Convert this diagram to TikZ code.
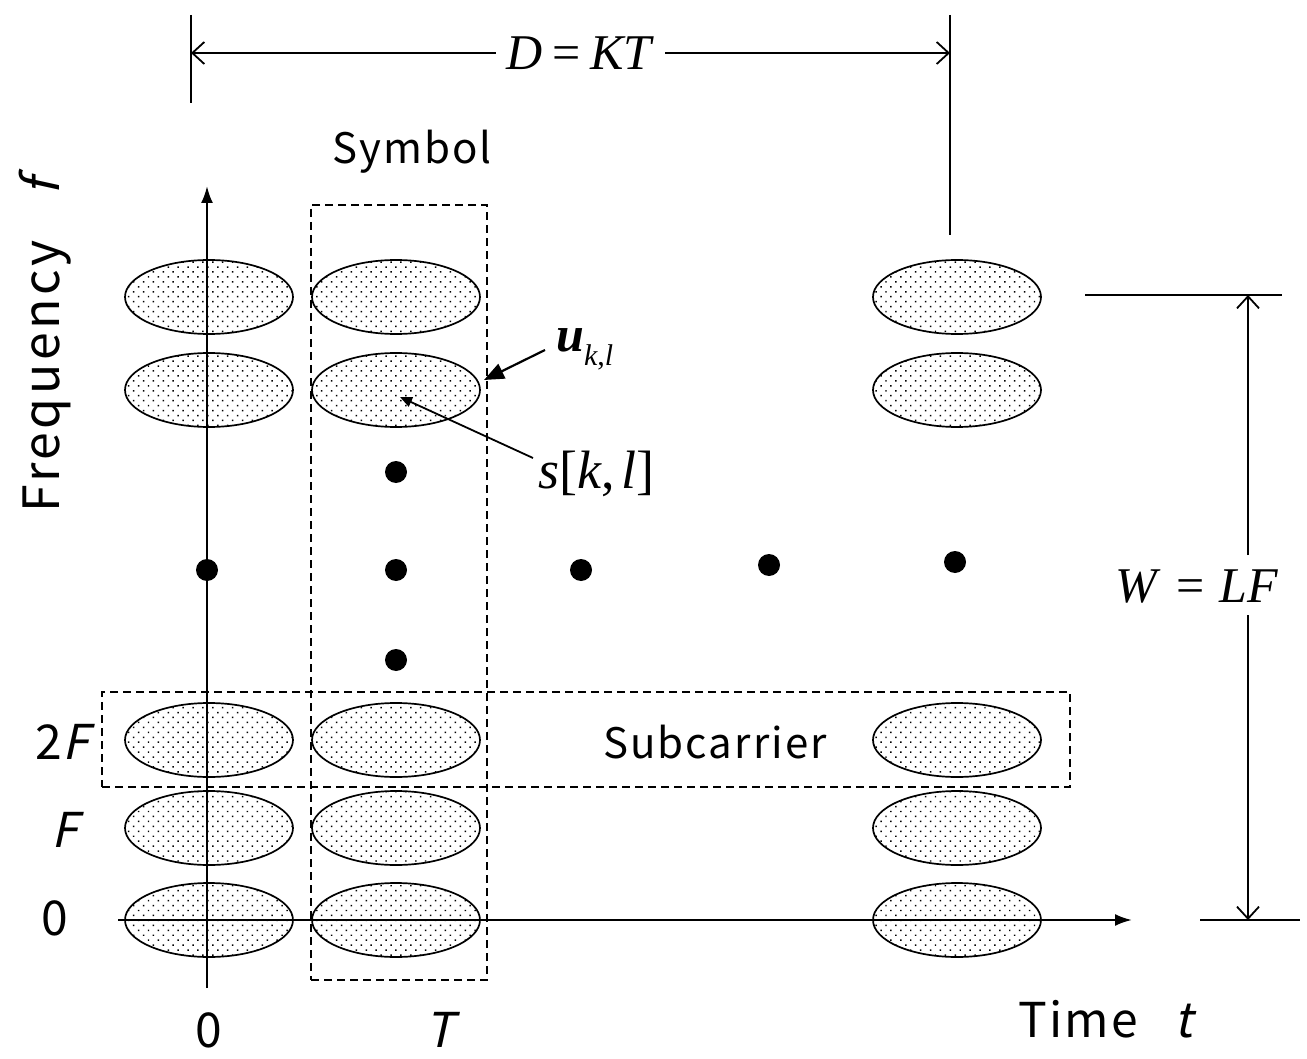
\documentclass[tikz,border=0pt]{standalone}
\usepackage{fontspec}
\setmainfont{Liberation Serif}
\newfontfamily\gothic[LetterSpace=5]{Noto Sans CJK JP}
\newfontfamily\gothicwide[LetterSpace=7]{Noto Sans CJK JP}
\newfontfamily\gothicsl[FakeSlant=0.22]{Noto Sans CJK JP}
\usetikzlibrary{shapes.geometric,patterns.meta,arrows.meta}
\begin{document}
\begin{tikzpicture}[x=1pt,y=-1pt,
  cell/.style={ellipse,draw,line width=1.7pt,minimum width=168pt,minimum height=74pt,inner sep=0pt,
    pattern={Dots[distance=7pt,radius=1.05pt,angle=45]}},
  dotnode/.style={circle,fill=black,minimum size=22pt,inner sep=0pt},
  axis/.style={line width=2.4pt,-{Latex[length=17pt,width=12pt]}},
  dimline/.style={line width=1.8pt},
  dimarrow/.style={line width=1.8pt,{Straight Barb[length=12pt,width=22pt]}-{Straight Barb[length=12pt,width=22pt]}},
  dimhead/.style={line width=1.8pt,-{Straight Barb[length=12pt,width=22pt]}},
  dashbox/.style={draw,line width=1.5pt,dash pattern=on 8pt off 5pt},
  lab/.style={font=\gothic\fontsize{42}{44}\selectfont,inner sep=0pt},
  freqfont/.style={font=\gothicwide\fontsize{50}{52}\selectfont,inner sep=0pt},
  tick/.style={font=\gothic\fontsize{48}{50}\selectfont,inner sep=0pt},
  mlab/.style={font=\fontsize{50}{52}\selectfont,inner sep=0pt}]
\useasboundingbox (0,0) rectangle (1307,1059);
% ellipses
\foreach \c/\x in {a/209,b/396,c/957}{
  \foreach \r/\y in {1/297,2/390,3/740,4/828,5/920}{
    \node[cell] (e\c\r) at (\x,\y) {};
  }
}
% dashed boxes
\node[dashbox,minimum width=176pt,minimum height=775pt,inner sep=0pt] (symbox) at (399,592.5) {};
\node[dashbox,minimum width=968pt,minimum height=95pt,inner sep=0pt] (subbox) at (586,739.5) {};
% axes
\coordinate (yb) at (207,988);
\coordinate (yt) at (207,186);
\coordinate (xl) at (118,920);
\coordinate (xr) at (1132,920);
\draw[axis] (yb) -- (yt);
\draw[axis] (xl) -- (xr);
% dots
\node[dotnode] (d1) at (207,570) {};
\node[dotnode] (d2) at (396,472) {};
\node[dotnode] (d3) at (396,570) {};
\node[dotnode] (d4) at (396,660) {};
\node[dotnode] (d5) at (581,570) {};
\node[dotnode] (d6) at (769,565) {};
\node[dotnode] (d7) at (955,562) {};
% labels
\node[lab] (symlab) at (412,152) {Symbol};
\node[lab] (sublab) at (715,742) {Subcarrier};
\node[freqfont,rotate=90] (freqlab) at (45,346) {Frequency\hspace{0.9em}{\gothicsl f}};
\node[tick,anchor=base west] (timelab) at (1018,1037) {Time\hspace{0.75em}{\gothicsl t}};
\node[tick] (t0) at (209,1030) {0};
\node[tick] (tT) at (440,1030) {\gothicsl T};
\node[tick] (f0) at (55,918) {0};
\node[tick] (fF) at (65,830) {\gothicsl F};
\node[tick] (f2F) at (62,742) {2\gothicsl F};
% D = KT
\coordinate (dla) at (191,15);
\coordinate (dlb) at (191,103);
\coordinate (dra) at (950,15);
\coordinate (drb) at (950,235);
\draw[dimline] (dla) -- (dlb);
\draw[dimline] (dra) -- (drb);
\draw[dimarrow] (191,53) -- node[mlab,fill=white,inner xsep=10pt,pos=0.513] (dkt) {\textit{D}\hspace{0.2em}=\hspace{0.2em}\textit{KT}} (950,53);
% W = LF
\coordinate (wta) at (1085,295);
\coordinate (wtb) at (1282,295);
\coordinate (wba) at (1200,920);
\coordinate (wbb) at (1300,920);
\coordinate (wup) at (1248,555);
\coordinate (wdn) at (1248,615);
\coordinate (wtop) at (1248,295);
\coordinate (wbot) at (1248,920);
\draw[dimline] (wta) -- (wtb);
\draw[dimline] (wba) -- (wbb);
\draw[dimhead] (wup) -- (wtop);
\draw[dimhead] (wdn) -- (wbot);
\node[mlab] (wlf) at (1197,587) {\textit{W}\hspace{0.3em}=\hspace{0.3em}\textit{LF}};
% u_{k,l}
\node[mlab,anchor=base west] (ulab) at (556,352) {\textbf{\textit{u}}\raisebox{-0.28em}{\fontsize{30}{30}\selectfont\textit{k},\textit{l}}};
\coordinate (uend) at (545,350);
\coordinate (utip) at (484,380);
\draw[line width=2.2pt,-{Triangle[length=20pt,width=16pt]}] (uend) -- (utip);
% s[k,l]
\node[mlab,anchor=base west,font=\fontsize{54}{56}\selectfont] (slab) at (538,488) {\textit{s}[\textit{k},\hspace{0.12em}\textit{l}]};
\coordinate (send) at (533,458);
\coordinate (stip) at (400,397);
\draw[line width=1.8pt,-{Triangle[length=12pt,width=10pt]}] (send) -- (stip);
\end{tikzpicture}
\end{document}
